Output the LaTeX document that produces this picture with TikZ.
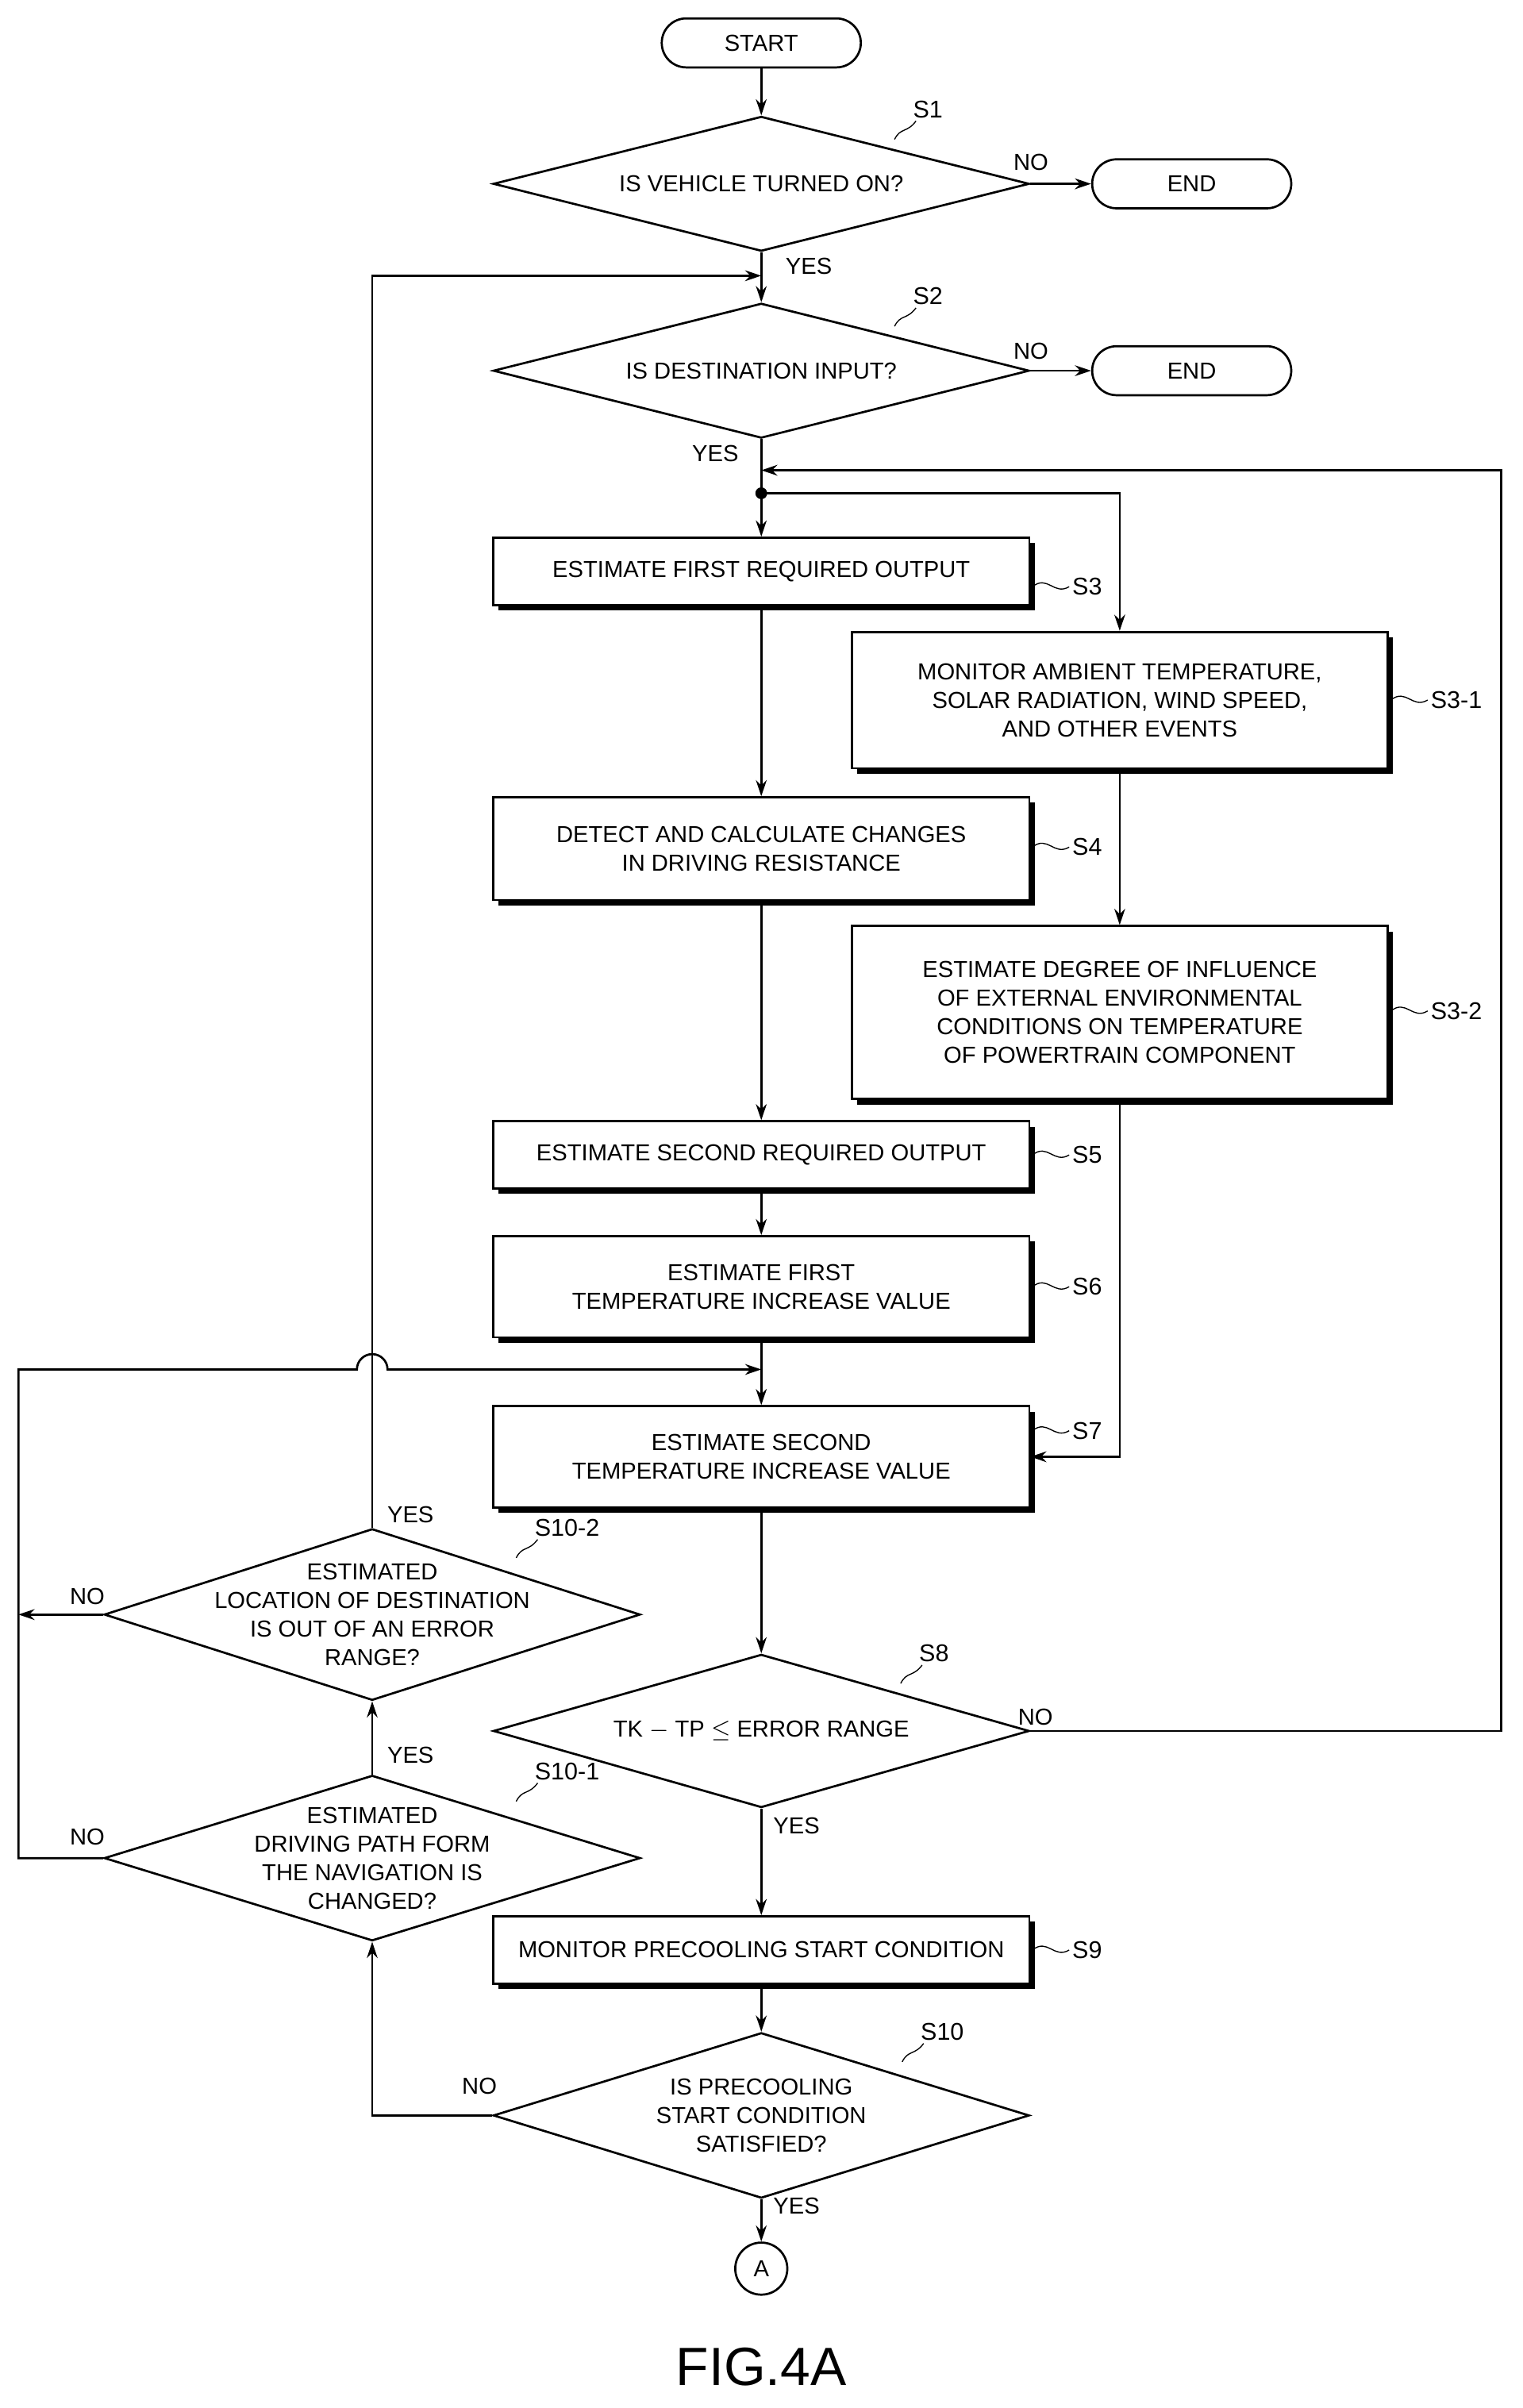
\documentclass[tikz,border=0pt]{standalone}
\usepackage{fontspec}
\setmainfont{Liberation Sans}
\usetikzlibrary{shapes.geometric,shadows,arrows.meta}
\tikzset{
  txt/.style={font=\fontsize{8.6}{10.6}\selectfont, align=center},
  box/.style={draw, thick, fill=white, minimum width=7cm, txt,
    drop shadow={shadow xshift=2pt, shadow yshift=-2pt, opacity=1, fill=black}},
  term/.style={draw, thick, rounded corners=0.32cm, minimum width=2.6cm, minimum height=0.64cm, txt},
  dia/.style={draw, thick, diamond, inner sep=0pt, minimum width=7cm},
  stepl/.style={font=\fontsize{9}{11}\selectfont, inner sep=1pt},
  yn/.style={font=\fontsize{8.6}{10}\selectfont, inner sep=1pt},
  flow/.style={thick, -{Stealth[length=6pt,width=4pt]}},
  line/.style={thick}
}
\begin{document}
\begin{tikzpicture}[x=0.02cm, y=-0.02cm]
\useasboundingbox (0,0) rectangle (994,1572);
% terminals
\node[term] (start) at (497,28) {START};
\node[term] (end1) at (778,120) {END};
\node[term] (end2) at (778,242) {END};
% decisions
\node[dia, minimum height=1.76cm] (s1) at (497,120) {};
\node[txt] at (s1) {IS VEHICLE TURNED ON?};
\node[dia, minimum height=1.76cm] (s2) at (497,242) {};
\node[txt] at (s2) {IS DESTINATION INPUT?};
\node[dia, minimum height=2cm] (s8) at (497,1130) {};
\node[txt] at (s8) {TK $-$ TP $\leq$ ERROR RANGE};
\node[dia, minimum height=2.16cm] (s10) at (497,1381) {};
\node[txt] at (s10) {IS PRECOOLING\\START CONDITION\\SATISFIED?};
\node[dia, minimum height=2.16cm] (s101) at (243,1213) {};
\node[txt] at (s101) {ESTIMATED\\DRIVING PATH FORM\\THE NAVIGATION IS\\CHANGED?};
\node[dia, minimum height=2.24cm] (s102) at (243,1054) {};
\node[txt] at (s102) {ESTIMATED\\LOCATION OF DESTINATION\\IS OUT OF AN ERROR\\RANGE?};
% process boxes
\node[box, minimum height=0.88cm] (s3) at (497,373) {ESTIMATE FIRST REQUIRED OUTPUT};
\node[box, minimum height=1.78cm] (s31) at (731,457) {MONITOR AMBIENT TEMPERATURE,\\SOLAR RADIATION, WIND SPEED,\\AND OTHER EVENTS};
\node[box, minimum height=1.34cm] (s4) at (497,554) {DETECT AND CALCULATE CHANGES\\IN DRIVING RESISTANCE};
\node[box, minimum height=2.26cm] (s32) at (731,661) {ESTIMATE DEGREE OF INFLUENCE\\OF EXTERNAL ENVIRONMENTAL\\CONDITIONS ON TEMPERATURE\\OF POWERTRAIN COMPONENT};
\node[box, minimum height=0.88cm] (s5) at (497,754) {ESTIMATE SECOND REQUIRED OUTPUT};
\node[box, minimum height=1.32cm] (s6) at (497,840) {ESTIMATE FIRST\\TEMPERATURE INCREASE VALUE};
\node[box, minimum height=1.32cm] (s7) at (497,951) {ESTIMATE SECOND\\TEMPERATURE INCREASE VALUE};
\node[box, minimum height=0.88cm] (s9) at (497,1273) {MONITOR PRECOOLING START CONDITION};
\node[draw, thick, circle, minimum size=0.68cm, inner sep=0pt, txt] (a) at (497,1481) {A};
% junctions
\coordinate (j1) at (497,180);
\coordinate (j2) at (497,307);
\coordinate (j3) at (497,322);
\coordinate (j4) at (497,894);
\fill (j3) circle (2.2pt);
% main flow
\draw[flow] (start) -- (s1.north);
\draw[flow] (s1.east) -- (end1.west);
\draw[flow] (s1.south) -- (s2.north);
\draw[flow] (s2.east) -- (end2.west);
\draw[line] (s2.south) -- (j3);
\draw[flow] (j3) -- (s3.north);
\draw[flow] (j3) -| (s31.north);
\draw[flow] (s3) -- (s4);
\draw[flow] (s31) -- (s32);
\draw[flow] (s4) -- (s5);
\draw[flow] (s5) -- (s6);
\draw[flow] (s6) -- (s7);
\draw[flow] (s32.south) |- (s7.east);
\draw[flow] (s7) -- (s8.north);
\draw[flow] (s8.south) -- (s9);
\draw[flow] (s9) -- (s10.north);
\draw[flow] (s10.south) -- (a);
% loops
\draw[flow] (s8.east) -- (980,1130) -- (980,307) -- (j2);
\draw[flow] (s10.west) -| (s101.south);
\draw[flow] (s101.north) -- (s102.south);
\draw[flow] (s101.west) -- (12,1213) -- (12,894) -- (233,894)
  arc[start angle=180, end angle=0, radius=0.2cm] -- (j4);
\draw[flow] (s102.west) -- (12,1054);
\draw[flow] (s102.north) -- (243,180) -- (j1);
% yes / no
\node[yn] at (673,106) {NO};
\node[yn] at (528,174) {YES};
\node[yn] at (673,229) {NO};
\node[yn] at (467,296) {YES};
\node[yn] at (676,1121) {NO};
\node[yn] at (520,1192) {YES};
\node[yn] at (313,1362) {NO};
\node[yn] at (520,1440) {YES};
\node[yn] at (57,1199) {NO};
\node[yn] at (268,1146) {YES};
\node[yn] at (57,1042) {NO};
\node[yn] at (268,989) {YES};
% step labels with leaders
\foreach \y/\t in {383/S3, 553/S4, 754/S5, 840/S6, 1273/S9}{
  \draw (674,\y) .. controls (684,\y-8) and (688,\y+6) .. (698,\y);
  \node[stepl, anchor=west] at (698,\y) {\t};
}
\draw (674,934) .. controls (684,926) and (688,940) .. (698,934);
\node[stepl, anchor=west] at (698,934) {S7};
\foreach \y/\t in {457/S3-1, 660/S3-2}{
  \draw (908,\y) .. controls (918,\y-8) and (922,\y+6) .. (932,\y);
  \node[stepl, anchor=west] at (932,\y) {\t};
}
\foreach \x/\y/\t in {584/91/S1, 584/213/S2, 588/1099/S8, 589/1346/S10, 337/1176/S10-1, 337/1017/S10-2}{
  \draw (\x,\y) .. controls (\x+4,\y-8) and (\x+8,\y-4) .. (\x+14,\y-12);
  \node[stepl, anchor=south west] at (\x+10,\y-12) {\t};
}
% caption
\node[font=\fontsize{20}{24}\selectfont] (fig) at (497,1545) {FIG.4A};
\end{tikzpicture}
\end{document}
